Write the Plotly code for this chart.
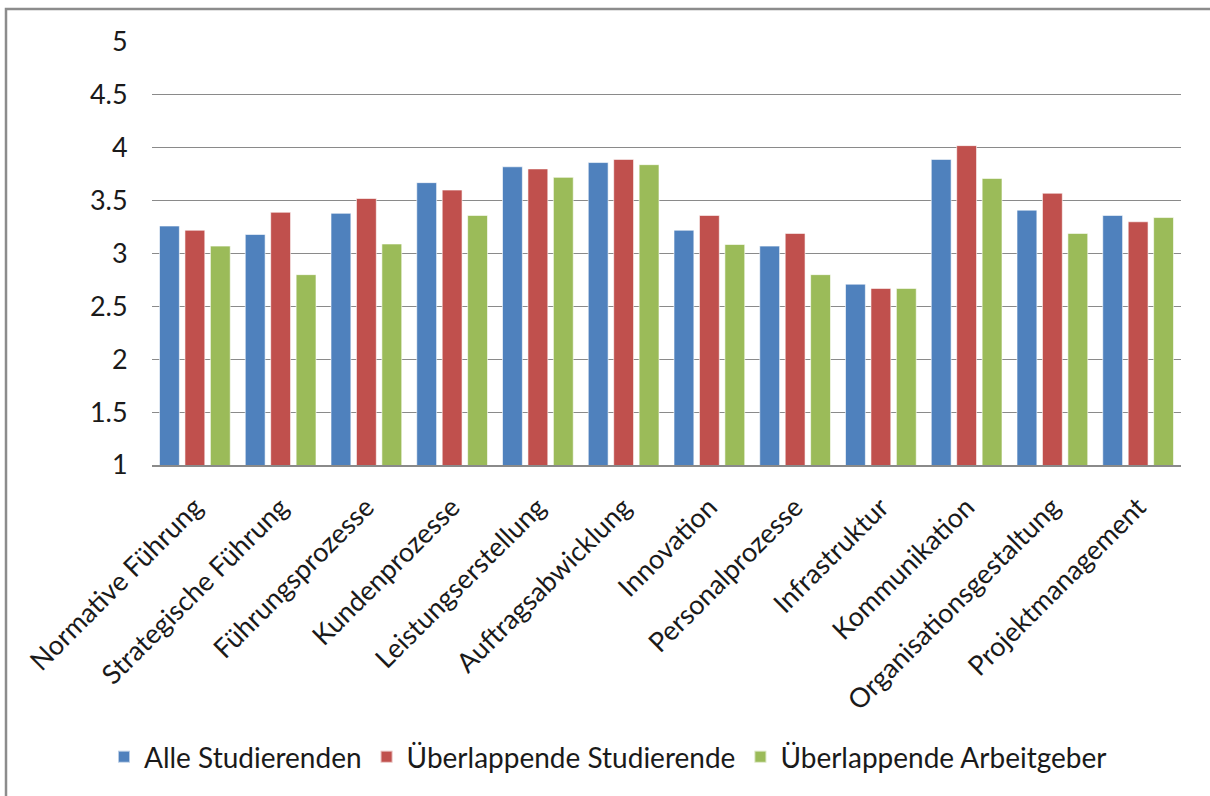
import plotly.graph_objects as go

# Kompetenzbereiche (Kategorien)
categories = [
    "Normative Führung", "Strategische Führung", "Führungsprozesse",
    "Kundenprozesse", "Leistungserstellung", "Auftragsabwicklung",
    "Innovation", "Personalprozesse", "Infrastruktur",
    "Kommunikation", "Organisationsgestaltung", "Projektmanagement",
]

# Mittelwerte je Gruppe
alle_studierenden = [3.26, 3.18, 3.38, 3.67, 3.82, 3.86, 3.22, 3.07, 2.71, 3.89, 3.41, 3.36]
ueberl_studierende = [3.22, 3.39, 3.52, 3.60, 3.80, 3.89, 3.36, 3.19, 2.67, 4.02, 3.57, 3.30]
ueberl_arbeitgeber = [3.07, 2.80, 3.09, 3.36, 3.72, 3.84, 3.085, 2.80, 2.67, 3.71, 3.19, 3.34]

series_names = ["Alle Studierenden", "Überlappende Studierende", "Überlappende Arbeitgeber"]
series_colors = ["#4F81BD", "#C0504D", "#9BBB59"]

y_tickvals = [1, 1.5, 2, 2.5, 3, 3.5, 4, 4.5, 5]
y_ticktext = ["1", "1.5", "2", "2.5", "3", "3.5", "4", "4.5", "5"]

FONT = "Lato, 'Open Sans', sans-serif"

fig = go.Figure()
for name, vals, col in zip(series_names,
                           [alle_studierenden, ueberl_studierende, ueberl_arbeitgeber],
                           series_colors):
    fig.add_trace(go.Bar(
        x=categories, y=vals, name=name,
        marker=dict(color=col, line=dict(color="rgba(255,255,255,0.6)", width=1)),
    ))

# plot area in pixels
W, H = 1210, 796
L, R, T, B = 152, 29, 42, 331
pw, ph = W - L - R, H - T - B

def px_x(p):
    return (p - L) / pw

def px_y(p):
    return (H - B - p) / ph

fig.update_layout(
    width=W, height=H,
    margin=dict(l=L, r=R, t=T, b=B),
    paper_bgcolor="white", plot_bgcolor="white",
    barmode="group", bargap=0.11, bargroupgap=0.22,
    font=dict(family=FONT, size=27, color="#1a1a1a"),
    showlegend=True,
    legend=dict(
        orientation="h", x=px_x(608), xanchor="center",
        y=px_y(757), yanchor="middle",
        font=dict(family=FONT, size=28, color="#1a1a1a"),
        itemsizing="constant", traceorder="normal",
        itemwidth=30,
    ),
    xaxis=dict(
        tickangle=-45, showgrid=False, showline=True,
        linecolor="#8a8a8a", linewidth=1.5,
        ticks="outside", ticklen=14, tickcolor="rgba(0,0,0,0)",
        tickfont=dict(family=FONT, size=27, color="#1a1a1a"),
    ),
    yaxis=dict(
        range=[1, 5], tickvals=y_tickvals, ticktext=y_ticktext,
        showgrid=True, gridcolor="#8a8a8a", gridwidth=1.3,
        zeroline=False, showline=False,
        ticks="outside", ticklen=18, tickcolor="rgba(0,0,0,0)",
        tickfont=dict(family=FONT, size=27, color="#1a1a1a"),
    ),
)

# outer chart frame
fig.add_shape(
    type="rect", xref="paper", yref="paper",
    x0=px_x(6), x1=px_x(1230), y0=px_y(820), y1=px_y(9),
    line=dict(color="#8c8c8c", width=2.5), fillcolor="rgba(0,0,0,0)",
    layer="below",
)

fig.write_html("out.html")
